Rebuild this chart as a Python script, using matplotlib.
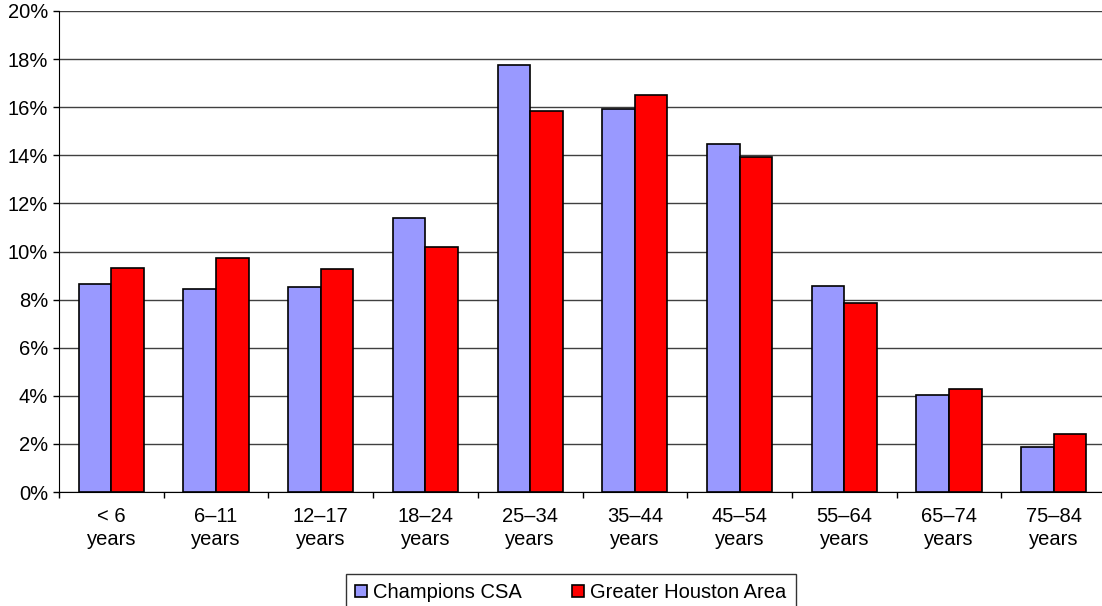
import matplotlib
matplotlib.use("Agg")
import matplotlib.pyplot as plt
import numpy as np
from matplotlib.ticker import FuncFormatter, FixedLocator

plt.rcParams['font.family'] = ['Liberation Sans', 'DejaVu Sans']

# age groups and shares (%)
categories = ['< 6\nyears', '6–11\nyears', '12–17\nyears', '18–24\nyears', '25–34\nyears',
              '35–44\nyears', '45–54\nyears', '55–64\nyears', '65–74\nyears', '75–84\nyears']
champions = [8.66, 8.46, 8.52, 11.38, 17.77, 15.93, 14.45, 8.58, 4.05, 1.86]
houston = [9.31, 9.73, 9.29, 10.17, 15.86, 16.51, 13.93, 7.87, 4.30, 2.41]
series_names = ['Champions CSA', 'Greater Houston Area']

fs = 14.5

fig = plt.figure(figsize=(11.02, 6.06), dpi=100)
# axes spans past the right edge (reference is cropped there)
ax = fig.add_axes([59 / 1102, 1 - 492 / 606, (1106 - 59) / 1102, (492 - 11) / 606])

x = np.arange(len(categories))
w = 0.311
ax.bar(x - w / 2, champions, w, color='#9999FF', edgecolor='black', linewidth=1.2,
       label=series_names[0], zorder=3)
ax.bar(x + w / 2, houston, w, color='#FF0000', edgecolor='black', linewidth=1.2,
       label=series_names[1], zorder=3)

ax.set_xlim(-0.5, len(categories) - 0.5)
ax.set_ylim(0, 20)
ax.set_yticks(np.arange(0, 21, 2))
ax.yaxis.set_major_formatter(FuncFormatter(lambda v, p: f'{v:.0f}%'))
ax.yaxis.grid(True, color='#404040', linewidth=1.0, zorder=0)
ax.set_axisbelow(True)

# category labels centred, tick marks between categories
ax.xaxis.set_major_locator(FixedLocator(np.arange(-0.5, len(categories), 1.0)))
ax.xaxis.set_minor_locator(FixedLocator(x))
ax.set_xticklabels([])
ax.set_xticklabels(categories, minor=True, fontsize=fs, linespacing=1.25)
ax.tick_params(axis='x', which='major', direction='out', length=4, width=1, color='black')
ax.tick_params(axis='x', which='minor', length=0, pad=11)
ax.tick_params(axis='y', direction='out', length=4, width=1, labelsize=fs, pad=4)

for s in ['top', 'right']:
    ax.spines[s].set_visible(False)
ax.spines['left'].set_color('black')
ax.spines['bottom'].set_color('black')

leg = fig.legend(loc='upper left', bbox_to_anchor=(346 / 1102, 1 - 574 / 606), ncol=2,
                 fontsize=fs, frameon=True, fancybox=False, edgecolor='black',
                 handlelength=0.6, handleheight=0.6, handletextpad=0.3,
                 columnspacing=2.5, borderpad=0.45, borderaxespad=0)
leg.get_frame().set_linewidth(1.0)

fig.savefig('out.png', dpi=100)
